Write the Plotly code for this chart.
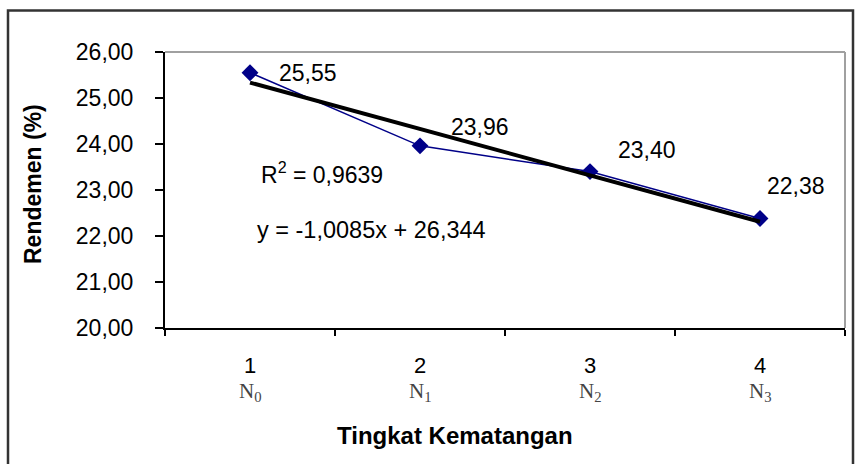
import numpy as np
import plotly.graph_objects as go

# ---- data ----
categories = [1, 2, 3, 4]
category_numbers = ["1", "2", "3", "4"]
category_codes = ["N<sub>0</sub>", "N<sub>1</sub>", "N<sub>2</sub>", "N<sub>3</sub>"]
rendemen = [25.55, 23.96, 23.40, 22.38]
value_labels = ["25,55", "23,96", "23,40", "22,38"]
trend_slope = -1.0085
trend_intercept = 26.344
r_squared_text = "R<sup>2</sup> = 0,9639"
equation_text = "y = -1,0085x + 26,344"
y_ticks = [20, 21, 22, 23, 24, 25, 26]
y_tick_labels = ["20,00", "21,00", "22,00", "23,00", "24,00", "25,00", "26,00"]
x_title = "Tingkat Kematangan"
y_title = "Rendemen (%)"

# ---- style ----
FONT = "Liberation Sans, Arial, sans-serif"
NAVY = "#000088"
label_dx = [27, 29, 26, 5]
label_dy = [0, 19, 22, 33]

W, H = 855, 464
ML, MR, MT, MB = 165, 10, 52, 136
PW = W - ML - MR
PH = H - MT - MB

def px_x(p):
    return (p - ML) / PW

def px_y(p):
    return (H - MB - p) / PH

fig = go.Figure()

trend_x = np.array([categories[0], categories[-1]], dtype=float)
trend_y = trend_slope * trend_x + trend_intercept

fig.add_trace(go.Scatter(
    x=categories, y=rendemen, mode="lines+markers",
    line=dict(color=NAVY, width=1.5),
    marker=dict(symbol="diamond", size=13, color=NAVY),
    showlegend=False, hoverinfo="skip"))

fig.add_trace(go.Scatter(
    x=trend_x, y=trend_y, mode="lines",
    line=dict(color="black", width=4),
    showlegend=False, hoverinfo="skip"))

annotations = []
for xv, yv, lab, dx, dy in zip(categories, rendemen, value_labels, label_dx, label_dy):
    annotations.append(dict(x=xv, y=yv, xref="x", yref="y", text=lab,
                            showarrow=False, xanchor="left", yanchor="middle",
                            xshift=dx, yshift=dy,
                            font=dict(family=FONT, size=23, color="black")))

for xv, num, code in zip(categories, category_numbers, category_codes):
    annotations.append(dict(x=xv, y=px_y(365), xref="x", yref="paper", text=num,
                            showarrow=False, xanchor="center", yanchor="middle",
                            font=dict(family=FONT, size=22, color="black")))
    annotations.append(dict(x=xv, y=px_y(392), xref="x", yref="paper", text=code,
                            showarrow=False, xanchor="center", yanchor="middle",
                            font=dict(family="Liberation Serif, Times New Roman, serif",
                                      size=21, color="#444444")))

annotations.append(dict(x=px_x(259), y=px_y(173), xref="paper", yref="paper",
                        text=r_squared_text, showarrow=False, xanchor="left",
                        yanchor="middle", font=dict(family=FONT, size=23, color="black")))
annotations.append(dict(x=px_x(255), y=px_y(230), xref="paper", yref="paper",
                        text=equation_text, showarrow=False, xanchor="left",
                        yanchor="middle", font=dict(family=FONT, size=23.5, color="black")))
annotations.append(dict(x=px_x(455), y=px_y(435), xref="paper", yref="paper",
                        text="<b>" + x_title + "</b>", showarrow=False,
                        xanchor="center", yanchor="middle",
                        font=dict(family=FONT, size=24, color="black")))
annotations.append(dict(x=px_x(33), y=px_y(184), xref="paper", yref="paper",
                        text="<b>" + y_title + "</b>", showarrow=False, textangle=-90,
                        xanchor="center", yanchor="middle",
                        font=dict(family=FONT, size=23, color="black")))

shapes = [
    # plot-area frame top and right (gray)
    dict(type="line", xref="paper", yref="paper", x0=0, x1=1, y0=1, y1=1,
         line=dict(color="#a0a0a0", width=2)),
    dict(type="line", xref="paper", yref="paper", x0=1, x1=1, y0=0, y1=1,
         line=dict(color="#a0a0a0", width=2)),
    # outer chart border
    dict(type="rect", xref="paper", yref="paper",
         x0=px_x(8), x1=px_x(853), y0=px_y(480), y1=px_y(10.5),
         line=dict(color="#333333", width=2.5)),
]

fig.update_layout(
    width=W, height=H,
    margin=dict(l=ML, r=MR, t=MT, b=MB),
    paper_bgcolor="white", plot_bgcolor="white",
    showlegend=False,
    xaxis=dict(range=[0.5, 4.5], tickvals=[0.5, 1.5, 2.5, 3.5, 4.5],
               showticklabels=False, ticks="outside", ticklen=6, tickwidth=2,
               tickcolor="black", showline=True, linecolor="black", linewidth=2,
               showgrid=False, zeroline=False, fixedrange=True),
    yaxis=dict(range=[20, 26], tickvals=y_ticks, ticktext=y_tick_labels,
               ticks="outside", ticklen=8, tickwidth=2, tickcolor="black",
               ticklabelstandoff=17,
               showline=True, linecolor="black", linewidth=2,
               showgrid=False, zeroline=False,
               tickfont=dict(family=FONT, size=23, color="black"), fixedrange=True),
    annotations=annotations,
    shapes=shapes,
)

fig.write_html("out.html", config={"displayModeBar": False},
               post_script="document.body.style.margin='0';document.body.style.overflow='hidden';")
